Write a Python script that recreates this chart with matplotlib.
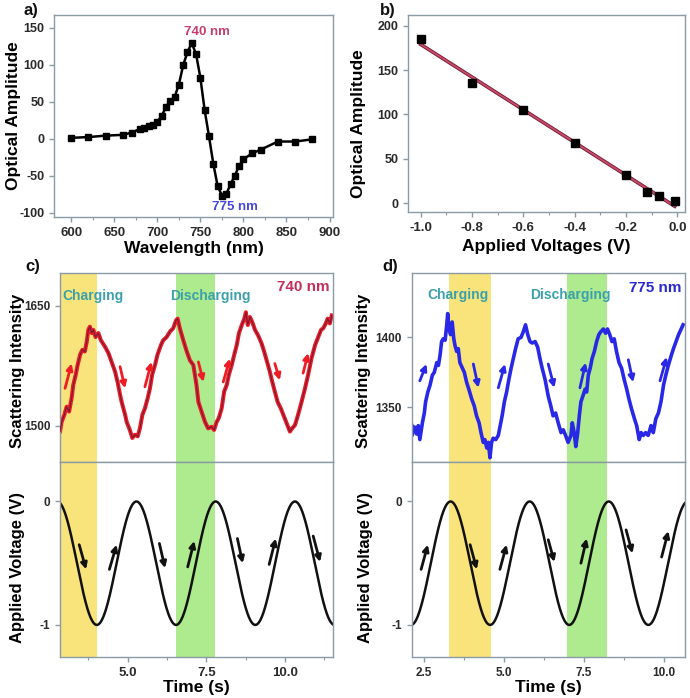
import numpy as np
import matplotlib
matplotlib.use("Agg")
import matplotlib.pyplot as plt
from matplotlib.ticker import MultipleLocator, AutoMinorLocator, FormatStrFormatter

# ---------------- data ----------------
# a) spectrum
wavelength = [600, 620, 640, 660, 670, 680, 685, 690, 695, 700, 705, 710, 715, 720, 725,
              730, 735, 740, 745, 750, 755, 760, 765, 770, 775, 780, 785, 790, 795, 800,
              810, 820, 840, 860, 880]
amplitude = [1, 2, 4, 5, 8, 13, 14, 17, 19, 23, 30, 43, 51, 56, 73,
             99, 117, 129, 114, 82, 38, 3, -34, -64, -77, -75, -62, -50, -37, -28,
             -20, -15, -4, -4, -1]

# b) amplitude vs applied voltage
voltages = [-1.0, -0.8, -0.6, -0.4, -0.2, -0.12, -0.07, -0.01]
amp_b = [185, 135, 105, 68, 32, 12, 7.5, 2]

# c) 740 nm scattering intensity
c_time = [2.85, 2.90, 2.99, 3.06, 3.14, 3.22, 3.27, 3.35, 3.41, 3.49, 3.56, 3.64, 3.70, 3.75,
          3.80, 3.86, 3.91, 3.98, 4.07, 4.15, 4.28, 4.39, 4.49, 4.60, 4.68, 4.76, 4.81, 4.92,
          4.97, 5.07, 5.15, 5.23, 5.32, 5.39, 5.47, 5.55, 5.64, 5.71, 5.78, 5.87, 5.95, 6.06,
          6.13, 6.24, 6.35, 6.45, 6.54, 6.59, 6.66, 6.77, 6.88, 6.98, 7.09, 7.19, 7.25, 7.35,
          7.46, 7.56, 7.67, 7.75, 7.83, 7.90, 7.99, 8.07, 8.15, 8.22, 8.31, 8.39, 8.47, 8.54,
          8.63, 8.71, 8.76, 8.82, 8.89, 8.96, 9.05, 9.15, 9.26, 9.34, 9.42, 9.52, 9.60, 9.68,
          9.77, 9.87, 9.95, 10.06, 10.16, 10.23, 10.32, 10.42, 10.53, 10.64, 10.74, 10.85,
          10.96, 11.06, 11.15, 11.22, 11.30, 11.36, 11.43, 11.49]
c_intensity = [1493, 1505, 1514, 1524, 1518, 1535, 1551, 1564, 1576, 1589, 1595, 1593, 1605, 1620,
               1624, 1616, 1620, 1611, 1616, 1607, 1599, 1591, 1580, 1568, 1555, 1539, 1530, 1514,
               1505, 1495, 1485, 1489, 1487, 1497, 1514, 1522, 1535, 1547, 1564, 1576, 1589, 1601,
               1607, 1611, 1618, 1622, 1632, 1634, 1622, 1607, 1593, 1582, 1576, 1551, 1530, 1518,
               1505, 1497, 1499, 1495, 1505, 1510, 1522, 1543, 1551, 1564, 1576, 1589, 1601, 1616,
               1626, 1634, 1642, 1626, 1636, 1630, 1620, 1613, 1603, 1593, 1582, 1568, 1555, 1543,
               1530, 1522, 1514, 1503, 1493, 1497, 1501, 1514, 1530, 1547, 1564, 1585,
               1601, 1611, 1620, 1622, 1628, 1634, 1628, 1638]

# d) 775 nm scattering intensity
d_time = [2.12, 2.13, 2.20, 2.27, 2.32, 2.37, 2.45, 2.51, 2.55, 2.62, 2.69, 2.76, 2.82, 2.90,
          2.95, 3.00, 3.05, 3.10, 3.16, 3.21, 3.24, 3.28, 3.33, 3.38, 3.43, 3.47, 3.52, 3.57,
          3.62, 3.68, 3.76, 3.83, 3.90, 3.99, 4.07, 4.14, 4.22, 4.28, 4.35, 4.40, 4.46, 4.51,
          4.56, 4.61, 4.66, 4.74, 4.82, 4.88, 4.94, 5.01, 5.08, 5.15, 5.22, 5.29, 5.36, 5.44,
          5.53, 5.60, 5.67, 5.74, 5.81, 5.88, 5.97, 6.05, 6.12, 6.19, 6.28, 6.38, 6.46, 6.53,
          6.61, 6.69, 6.78, 6.85, 6.92, 7.00, 7.09, 7.13, 7.19, 7.24, 7.30, 7.35, 7.40, 7.46,
          7.53, 7.58, 7.63, 7.69, 7.75, 7.82, 7.89, 7.96, 8.02, 8.10, 8.17, 8.23, 8.30, 8.37,
          8.44, 8.51, 8.59, 8.67, 8.75, 8.83, 8.90, 8.98, 9.07, 9.14, 9.22, 9.28, 9.35, 9.42,
          9.50, 9.59, 9.66, 9.74, 9.82, 9.90, 9.98, 10.05, 10.13, 10.22, 10.29, 10.37, 10.45,
          10.53, 10.59]
d_intensity = [1337, 1330, 1336, 1331, 1337, 1327, 1339, 1346, 1354, 1361, 1366, 1373, 1375, 1382,
               1380, 1387, 1397, 1399, 1398, 1409, 1417, 1406, 1402, 1411, 1399, 1394, 1390, 1392,
               1382, 1379, 1375, 1368, 1363, 1356, 1351, 1344, 1339, 1332, 1325, 1327, 1321, 1325,
               1314, 1325, 1328, 1327, 1330, 1337, 1344, 1354, 1361, 1370, 1378, 1385, 1392, 1399,
               1400, 1404, 1409, 1402, 1397, 1396, 1397, 1393, 1385, 1378, 1370, 1358, 1351, 1344,
               1346, 1339, 1332, 1334, 1330, 1325, 1330, 1339, 1332, 1322, 1332, 1344, 1354, 1358,
               1363, 1361, 1373, 1378, 1385, 1390, 1397, 1402, 1404, 1406, 1403, 1406, 1402, 1397,
               1399, 1390, 1382, 1378, 1370, 1363, 1356, 1349, 1342, 1337, 1327, 1332, 1330, 1332,
               1330, 1337, 1332, 1342, 1346, 1354, 1366, 1373, 1380, 1387, 1392, 1397, 1402,
               1406, 1409]

# sinusoidal drive voltage: min, max, period, time of first maximum
v_min, v_max = -1.0, 0.0
c_period, c_peak_time = 2.52, 2.76
d_period, d_peak_time = 2.47, 3.33

# shaded intervals (charging / discharging)
c_charge_span = (2.85, 4.02)
c_discharge_span = (6.54, 7.79)
d_charge_span = (3.28, 4.58)
d_discharge_span = (6.98, 8.22)

# direction arrows: (t_start, y_start, t_end, y_end)
c_top_arrows = [(3.01, 1547, 3.22, 1578), (4.76, 1574, 4.92, 1547), (5.55, 1549, 5.76, 1580),
                (7.25, 1580, 7.41, 1555), (8.04, 1555, 8.25, 1584), (9.68, 1578, 9.84, 1557),
                (10.58, 1566, 10.74, 1591)]
c_bot_arrows = [(3.46, -0.35, 3.68, -0.55), (4.42, -0.55, 4.65, -0.35), (6.01, -0.34, 6.19, -0.54),
                (6.91, -0.53, 7.12, -0.32), (8.49, -0.30, 8.66, -0.50), (9.50, -0.51, 9.71, -0.30),
                (10.90, -0.28, 11.12, -0.49)]
d_top_arrows = [(2.37, 1369, 2.58, 1381), (4.04, 1381, 4.20, 1364), (4.82, 1364, 5.03, 1381),
                (6.38, 1381, 6.57, 1364), (7.37, 1364, 7.55, 1382), (8.88, 1384, 9.03, 1368),
                (9.87, 1369, 10.08, 1386)]
d_bot_arrows = [(2.41, -0.55, 2.62, -0.35), (3.94, -0.35, 4.15, -0.55), (4.87, -0.55, 5.08, -0.35),
                (6.38, -0.31, 6.57, -0.49), (7.40, -0.50, 7.58, -0.30), (8.81, -0.23, 9.01, -0.42),
                (9.92, -0.45, 10.13, -0.24)]

# ---------------- style ----------------
plt.rcParams['font.family'] = ['Liberation Sans', 'DejaVu Sans']
plt.rcParams['font.weight'] = 'bold'
plt.rcParams['axes.unicode_minus'] = False

SPINE = '#8a9ba5'
TICKLAB = '#2a2a2a'
YELLOW = '#f9e47c'
GREEN = '#aeea8e'
TEAL = '#3aa0ab'
RED = '#ee1c24'
BLUE = '#2828e6'
LABEL_FS = 12.5

W, H = 690, 698
fig = plt.figure(figsize=(W / 100, H / 100), dpi=100)


def rect(l, t, r, b):
    return [l / W, 1 - b / H, (r - l) / W, (b - t) / H]


def style(ax, xfs, yfs):
    for s in ax.spines.values():
        s.set_color(SPINE)
        s.set_linewidth(1.0)
    ax.tick_params(which='both', direction='out', color=SPINE, labelcolor=TICKLAB,
                   top=False, right=False)
    ax.tick_params(axis='x', labelsize=xfs)
    ax.tick_params(axis='y', labelsize=yfs)
    ax.tick_params(which='major', length=3.5, width=1)
    ax.tick_params(which='minor', length=2, width=0.8)
    for lab in ax.get_xticklabels() + ax.get_yticklabels():
        lab.set_fontweight('bold')


def ylabel_at(ax, text, right_px, left_px, width_px, fs, yfrac=0.5):
    # right_px: pixel x of the right edge of the rotated label
    ax.set_ylabel(text, fontsize=fs, fontweight='bold')
    ax.yaxis.set_label_coords((right_px - left_px) / width_px, yfrac)


def arrows(ax, lst, color):
    for x0, y0, x1, y1 in lst:
        ax.annotate('', xy=(x1, y1), xytext=(x0, y0),
                    arrowprops=dict(arrowstyle='-|>', color=color, lw=2.0,
                                    mutation_scale=9, shrinkA=0, shrinkB=0))


def voltage(t, period, peak):
    return v_min + (v_max - v_min) * (1 + np.cos(2 * np.pi * (t - peak) / period)) / 2

# ---------------- a ----------------
axa = fig.add_axes(rect(54, 15, 333, 217))
axa.plot(wavelength, amplitude, '-s', color='black', lw=1.8, ms=4.4)
axa.set_xlim(580, 904)
axa.set_ylim(-106, 167)
axa.xaxis.set_major_locator(MultipleLocator(50))
axa.xaxis.set_minor_locator(AutoMinorLocator(2))
axa.yaxis.set_major_locator(MultipleLocator(50))
axa.set_xlabel('Wavelength (nm)', fontsize=LABEL_FS, fontweight='bold', labelpad=2)
ylabel_at(axa, 'Optical Amplitude', 21, 54, 279, LABEL_FS)
axa.text(758, 144, '740 nm', color='#c4406c', fontsize=9.5, fontweight='bold', ha='center', va='center')
axa.text(790, -92, '775 nm', color='#4646e0', fontsize=9.5, fontweight='bold', ha='center', va='center')
style(axa, 9.5, 9)

# ---------------- b ----------------
axb = fig.add_axes(rect(408, 15, 685, 212))
slope, intercept = np.polyfit(voltages, amp_b, 1)
xf = np.array([min(voltages), max(voltages)])
axb.plot(xf, slope * xf + intercept, color='#6e1e32', lw=2.6, zorder=2)
axb.plot(xf, slope * xf + intercept, color='#c8486a', lw=1.4, zorder=3)
axb.plot(voltages, amp_b, 's', color='black', ms=5.5, zorder=4)
axb.set_xlim(-1.05, 0.03)
axb.set_ylim(-10, 212)
axb.xaxis.set_major_locator(MultipleLocator(0.2))
axb.xaxis.set_minor_locator(AutoMinorLocator(2))
axb.yaxis.set_major_locator(MultipleLocator(50))
axb.xaxis.set_major_formatter(FormatStrFormatter('%.1f'))
axb.set_xlabel('Applied Voltages (V)', fontsize=LABEL_FS, fontweight='bold', labelpad=4)
ylabel_at(axb, 'Optical Amplitude', 366, 408, 277, LABEL_FS, 0.45)
style(axb, 9.5, 9)

# ---------------- c ----------------
ct = fig.add_axes(rect(60, 273, 333, 462))
cb = fig.add_axes(rect(60, 462, 333, 657))
for ax in (ct, cb):
    ax.axvspan(*c_charge_span, color=YELLOW, lw=0, zorder=0)
    ax.axvspan(*c_discharge_span, color=GREEN, lw=0, zorder=0)
    ax.set_xlim(2.85, 11.53)
ct.plot(c_time, c_intensity, color=RED, lw=2.9, zorder=2)
ct.plot(c_time, c_intensity, color='#6e1c3c', lw=0.8, zorder=3)
ct.set_ylim(1455, 1691)
ct.set_yticks([1500, 1650])
ct.set_xticks([])
ylabel_at(ct, 'Scattering Intensity', 25, 60, 273, LABEL_FS - 0.5, 0.48)
ct.text(2.91, 1662, 'Charging', color=TEAL, fontsize=10, fontweight='bold', ha='left', va='center')
ct.text(6.35, 1662, 'Discharging', color=TEAL, fontsize=10, fontweight='bold', ha='left', va='center')
ct.text(11.43, 1673, '740 nm', color='#c3305c', fontsize=11, fontweight='bold', ha='right', va='center')
arrows(ct, c_top_arrows, RED)
style(ct, 9, 8.5)

tc = np.linspace(2.85, 11.53, 800)
cb.plot(tc, voltage(tc, c_period, c_peak_time), color='#111111', lw=1.8)
cb.set_ylim(-1.26, 0.32)
cb.set_yticks([0, -1])
cb.xaxis.set_major_locator(MultipleLocator(2.5))
cb.xaxis.set_minor_locator(AutoMinorLocator(2))
cb.xaxis.set_major_formatter(FormatStrFormatter('%.1f'))
cb.set_xlabel('Time (s)', fontsize=LABEL_FS, fontweight='bold', labelpad=1)
ylabel_at(cb, 'Applied Voltage (V)', 25, 60, 273, LABEL_FS - 0.5, 0.46)
arrows(cb, c_bot_arrows, '#111111')
style(cb, 9.5, 8.5)

# ---------------- d ----------------
dt = fig.add_axes(rect(411.7, 273, 685, 462))
db = fig.add_axes(rect(411.7, 462, 685, 657))
for ax in (dt, db):
    ax.axvspan(*d_charge_span, color=YELLOW, lw=0, zorder=0)
    ax.axvspan(*d_discharge_span, color=GREEN, lw=0, zorder=0)
    ax.set_xlim(2.116, 10.65)
dt.plot(d_time, d_intensity, color=BLUE, lw=2.6, zorder=2)
dt.set_ylim(1311, 1446)
dt.set_yticks([1350, 1400])
dt.set_xticks([])
ylabel_at(dt, 'Scattering Intensity', 371, 411.7, 273.3, LABEL_FS - 0.5, 0.48)
dt.text(2.62, 1430, 'Charging', color=TEAL, fontsize=10, fontweight='bold', ha='left', va='center')
dt.text(5.81, 1430, 'Discharging', color=TEAL, fontsize=10, fontweight='bold', ha='left', va='center')
dt.text(10.55, 1435.5, '775 nm', color='#2a2ad0', fontsize=11, fontweight='bold', ha='right', va='center')
arrows(dt, d_top_arrows, BLUE)
style(dt, 9, 8.5)

td = np.linspace(2.116, 10.65, 800)
db.plot(td, voltage(td, d_period, d_peak_time), color='#111111', lw=1.8)
db.set_ylim(-1.26, 0.32)
db.set_yticks([0, -1])
db.xaxis.set_major_locator(MultipleLocator(2.5))
db.xaxis.set_minor_locator(AutoMinorLocator(2))
db.xaxis.set_major_formatter(FormatStrFormatter('%.1f'))
db.set_xlabel('Time (s)', fontsize=LABEL_FS, fontweight='bold', labelpad=1)
ylabel_at(db, 'Applied Voltage (V)', 373, 411.7, 273.3, LABEL_FS - 0.5, 0.46)
arrows(db, d_bot_arrows, '#111111')
style(db, 8.5, 8.5)

# panel letters
for lab, x, y in [('a)', 23, 10), ('b)', 380, 10), ('c)', 25, 267), ('d)', 382, 267)]:
    fig.text(x / W, 1 - y / H, lab, fontsize=12, fontweight='bold', ha='left', va='center',
             color='#111111')

fig.savefig('out.png', dpi=100)
